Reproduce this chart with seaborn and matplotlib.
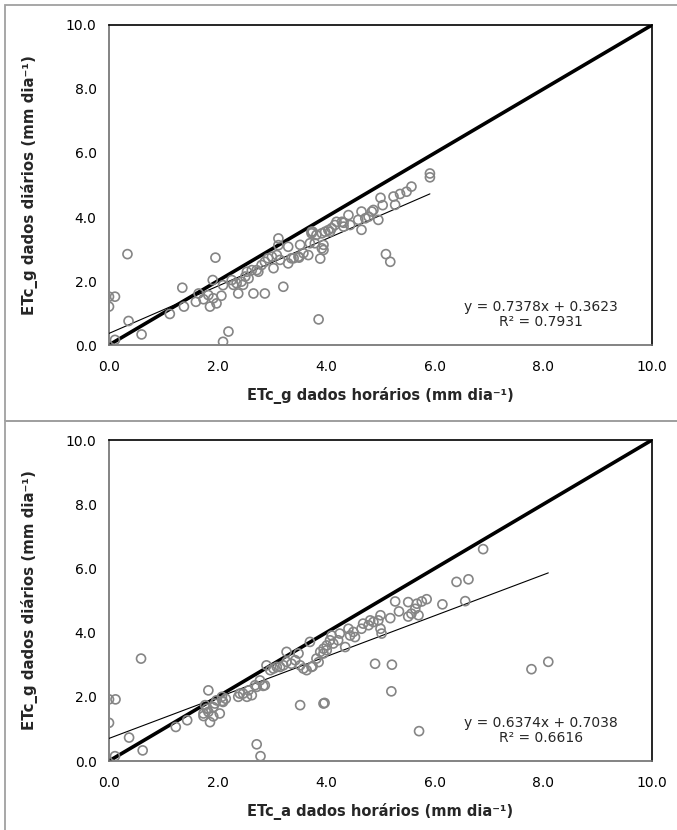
import numpy as np
import pandas as pd
import matplotlib
matplotlib.use("Agg")
import matplotlib.pyplot as plt
import seaborn as sns
from matplotlib.patches import Rectangle

# ---------------- data ----------------
top_x = [0.00, 0.11, 0.00, 0.34, 0.36, 0.11, 0.60, 1.12, 3.86,
         1.35, 1.38, 1.60, 1.65, 1.74, 1.83, 1.86, 1.92, 1.98, 2.07, 1.91, 2.10,
         1.96, 2.20, 2.10, 2.26, 2.29, 2.35, 2.38, 2.44, 2.51, 2.57, 2.54, 2.63,
         2.66, 2.75, 2.81, 2.87, 2.87, 2.93, 3.00, 3.03, 3.09, 3.12, 3.15, 3.21,
         3.30, 3.36, 3.30, 3.49, 3.52, 3.58, 3.67, 3.70, 3.73, 3.79,
         3.73, 3.82, 3.92, 3.98, 4.04, 4.10, 4.16, 4.19, 4.29, 4.32, 4.41, 4.44,
         4.59, 4.65, 4.65, 4.72, 4.78, 4.84, 4.87, 4.96, 5.00, 5.04, 5.24, 5.27,
         5.36, 5.48, 5.57, 5.91, 5.91, 5.10, 5.18, 3.89, 3.95, 3.95,
         3.12, 3.40, 3.50, 3.75, 3.92, 4.07, 4.32, 2.47, 2.72]
top_y = [1.51, 1.51, 1.20, 2.84, 0.75, 0.16, 0.33, 0.97, 0.80,
         1.79, 1.20, 1.35, 1.61, 1.43, 1.56, 1.20, 1.46, 1.30, 1.54, 2.03, 1.87,
         2.73, 0.42, 0.10, 2.03, 1.88, 1.93, 1.61, 1.98, 2.14, 2.08, 2.29, 2.34,
         1.61, 2.29, 2.50, 1.61, 2.60, 2.71, 2.76, 2.40, 2.81, 3.33, 2.66, 1.82,
         2.55, 2.71, 3.07, 2.76, 3.13, 2.87, 2.81, 3.18, 3.49, 3.18,
         3.54, 3.44, 3.49, 3.54, 3.59, 3.65, 3.75, 3.85, 3.85, 3.70, 4.06, 3.75,
         3.91, 4.17, 3.60, 3.96, 4.01, 4.17, 4.22, 3.91, 4.60, 4.37, 4.64, 4.38,
         4.72, 4.79, 4.95, 5.36, 5.24, 2.84, 2.60, 2.70, 3.13, 2.97,
         3.12, 2.71, 2.73, 3.54, 3.02, 3.54, 3.82, 1.88, 2.34]

bot_x = [0.00, 0.12, 0.00, 0.11, 0.37, 0.59, 0.62, 1.23, 1.44, 1.86, 2.72, 2.79,
         5.20, 5.71, 7.78, 8.09, 1.83, 1.77, 1.80, 1.74, 1.83, 1.92, 1.95, 1.98,
         2.08, 2.10, 2.04, 1.92, 2.38, 2.41, 2.47, 2.54, 2.57, 2.63, 2.72, 2.78,
         2.87, 2.90, 2.97, 3.03, 3.09, 3.15, 3.21, 3.27, 3.27, 3.36, 3.43, 3.49,
         3.52, 3.64, 3.70, 3.73, 3.82, 3.89, 3.95, 4.01, 3.52, 3.95, 3.97,
         6.89, 6.40, 6.62, 6.56, 6.14, 5.85, 5.76, 5.67, 5.51, 5.27, 5.34, 5.18,
         5.51, 5.57, 5.70, 5.64, 5.00, 4.96, 4.87, 4.81, 4.78, 4.68, 4.65, 4.53,
         4.50, 4.44, 4.41, 4.25, 4.22, 4.10, 4.07, 4.01, 3.95, 4.13, 4.35, 5.00,
         5.02, 4.90, 5.21, 2.69, 2.84, 3.58, 3.86, 3.75, 2.15, 2.09, 1.74]
bot_y = [1.92, 1.92, 1.19, 0.15, 0.73, 3.19, 0.33, 1.06, 1.27, 1.21, 0.52, 0.15,
         2.17, 0.93, 2.86, 3.09, 2.20, 1.74, 1.63, 1.48, 1.53, 1.68, 1.79, 1.89,
         2.00, 1.84, 1.48, 1.39, 2.00, 2.10, 2.10, 2.00, 2.20, 2.05, 2.31, 2.51,
         2.36, 2.98, 2.83, 2.88, 2.93, 2.93, 2.98, 3.09, 3.40, 3.03, 3.14, 3.35,
         2.98, 2.83, 3.71, 2.93, 3.19, 3.40, 3.35, 3.45, 1.74, 1.79, 1.81,
         6.60, 5.58, 5.66, 4.98, 4.88, 5.04, 4.97, 4.90, 4.95, 4.97, 4.66, 4.45,
         4.50, 4.59, 4.54, 4.74, 4.54, 4.38, 4.33, 4.38, 4.23, 4.28, 4.12, 3.86,
         4.02, 3.91, 4.12, 3.97, 3.76, 3.91, 3.76, 3.60, 3.50, 3.66, 3.55, 4.12,
         3.97, 3.03, 3.00, 2.36, 2.34, 2.88, 3.08, 2.95, 1.94, 1.87, 1.40]

top_slope, top_intercept, top_r2 = 0.7378, 0.3623, 0.7931
bot_slope, bot_intercept, bot_r2 = 0.6374, 0.7038, 0.6616

ticks = [0, 2, 4, 6, 8, 10]
tick_labels = ["0.0", "2.0", "4.0", "6.0", "8.0", "10.0"]
y_label = "ETc_g dados diários (mm dia⁻¹)"
top_xlabel = "ETc_g dados horários (mm dia⁻¹)"
bot_xlabel = "ETc_a dados horários (mm dia⁻¹)"

# ---------------- figure ----------------
sns.set_style("white")
plt.rcParams['font.family'] = ['DejaVu Sans']

fig = plt.figure(figsize=(6.77, 8.30), dpi=100)
W, H = 677, 830

def fx(px):
    return px / W

def fy(py):
    return 1 - py / H

# panel borders (gray)
for (t, b) in [(5, 421), (421, 840)]:
    fig.add_artist(Rectangle((fx(5), fy(b)), fx(700), (b - t) / H,
                             transform=fig.transFigure, fill=False,
                             edgecolor="#a0a0a0", linewidth=1.3, clip_on=False))

ax_top = fig.add_axes([fx(109), fy(345), fx(652) - fx(109), (345 - 25) / H])
ax_bot = fig.add_axes([fx(109), fy(761), fx(652) - fx(109), (761 - 440) / H])

panels = [
    (ax_top, top_x, top_y, top_slope, top_intercept, top_r2, top_xlabel),
    (ax_bot, bot_x, bot_y, bot_slope, bot_intercept, bot_r2, bot_xlabel),
]

for ax, xs, ys, m, b, r2, xlab in panels:
    df = pd.DataFrame({"x": xs, "y": ys})
    # 1:1 line
    ref = pd.DataFrame({"x": [0, 10], "y": [0, 10]})
    sns.lineplot(data=ref, x="x", y="y", ax=ax, color="black", linewidth=2.6,
                 zorder=2)
    # trend line
    xr = np.array([min(xs), max(xs)])
    fit = pd.DataFrame({"x": xr, "y": m * xr + b})
    sns.lineplot(data=fit, x="x", y="y", ax=ax, color="black", linewidth=0.8,
                 zorder=3)
    sns.scatterplot(data=df, x="x", y="y", ax=ax, marker="o",
                    facecolor="none", edgecolor="#858585", linewidth=1.2,
                    s=42, zorder=4)
    ax.set_xlim(0, 10)
    ax.set_ylim(0, 10)
    ax.set_xticks(ticks)
    ax.set_yticks(ticks)
    ax.set_xticklabels(tick_labels)
    ax.set_yticklabels(tick_labels)
    ax.tick_params(axis="both", direction="out", length=5, width=1,
                   color="#868686", labelsize=10, pad=4, labelcolor="black")
    ax.tick_params(axis="x", pad=6)
    for side in ["top", "right"]:
        ax.spines[side].set_color("black")
        ax.spines[side].set_linewidth(1.2)
        ax.spines[side].set_visible(True)
    for side in ["left", "bottom"]:
        ax.spines[side].set_color("#6e6e6e")
        ax.spines[side].set_linewidth(1.2)
        ax.spines[side].set_visible(True)
    ax.set_xlabel(xlab, fontsize=10.5, fontweight="bold", labelpad=9)
    ax.set_ylabel(y_label, fontsize=10.8, fontweight="bold", labelpad=20)
    ax.text(7.95, 0.95, f"y = {m:.4f}x + {b:.4f}\nR² = {r2:.4f}",
            ha="center", va="center", multialignment="center",
            fontsize=10, linespacing=1.1, zorder=5)

fig.savefig("out.png", dpi=100)
